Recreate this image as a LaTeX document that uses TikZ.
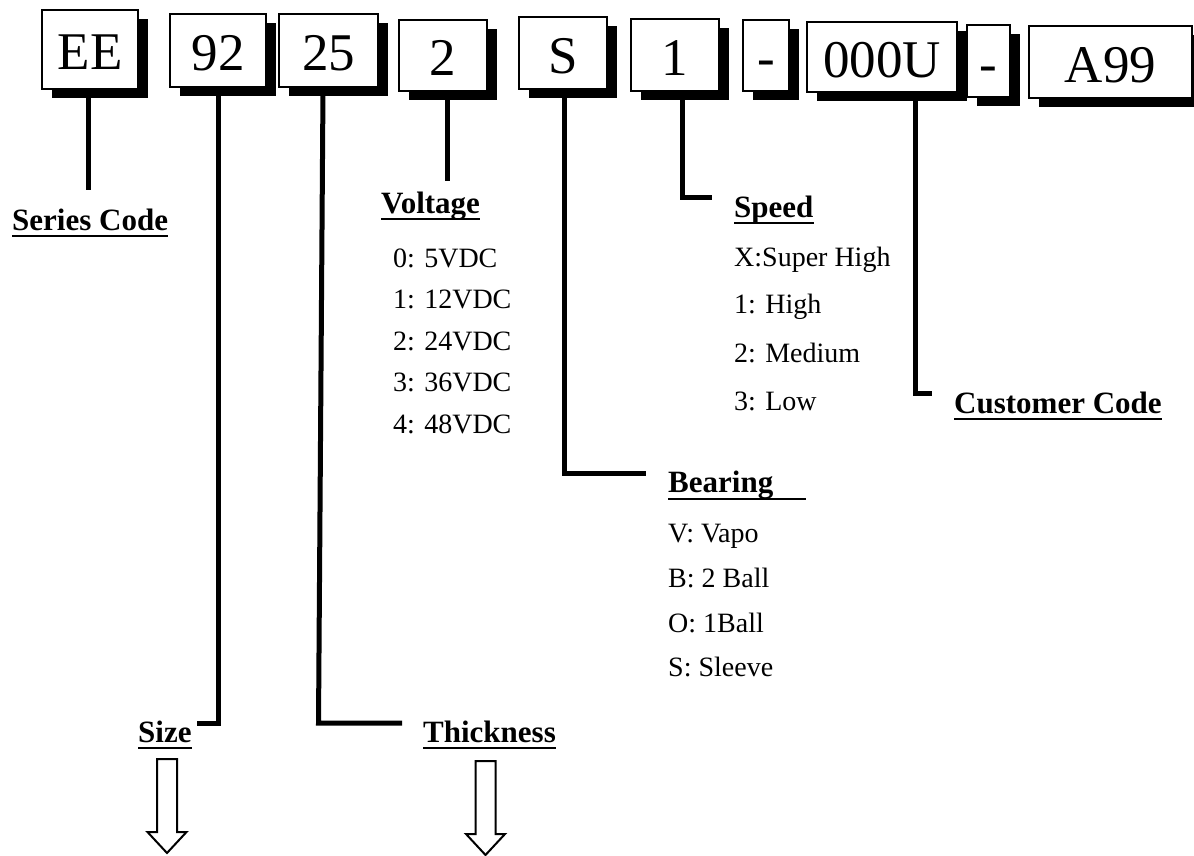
\documentclass[tikz,border=0pt]{standalone}
\usepackage{fontspec}
\setmainfont{Liberation Serif}
\usetikzlibrary{shadows}
\tikzset{
  codebox/.style={draw=black, line width=2pt, fill=white, inner sep=0pt,
    text height=40pt, text depth=0pt,
    font=\fontsize{53}{58}\selectfont,
    drop shadow={fill=black, opacity=1, shadow xshift=10pt, shadow yshift=-9pt}},
  head/.style={font=\bfseries\fontsize{31}{34}\selectfont, anchor=base west, inner sep=0pt},
  item/.style={font=\fontsize{28}{30}\selectfont, anchor=base west, inner sep=0pt},
  conn/.style={line width=5pt, line join=miter, line cap=butt},
  uline/.style={line width=2.6pt},
  downarrow/.pic={\draw[line width=2pt, line join=miter]
    (-10,0) -- (10,0) -- (10,73) -- (19.5,73) -- (0,94) -- (-19.5,73) -- (-10,73) -- cycle;}
}
\begin{document}
\begin{tikzpicture}[x=1pt, y=-1pt]
\useasboundingbox (0,0) rectangle (1194,855);
\fill[white] (0,0) rectangle (1194,855);

% code boxes
\node[codebox, minimum width=96pt, minimum height=79pt] (bEE) at (90,49.5) {EE};
\node[codebox, minimum width=96pt, minimum height=73pt] (b92) at (218,50.5) {92};
\node[codebox, minimum width=99pt, minimum height=73pt] (b25) at (328.5,50.5) {25};
\node[codebox, minimum width=88pt, minimum height=71pt] (b2) at (443,55.5) {2};
\node[codebox, minimum width=88pt, minimum height=72pt] (bS) at (563,53) {S};
\node[codebox, minimum width=88pt, minimum height=72pt] (b1) at (675,55) {1};
\node[codebox, minimum width=46pt, minimum height=71pt] (bd1) at (766,55.5) {-};
\node[codebox, minimum width=150pt, minimum height=70pt] (b000U) at (882,57) {000U};
\node[codebox, minimum width=43pt, minimum height=72pt] (bd2) at (988.5,61) {-};
\node[codebox, minimum width=163pt, minimum height=72pt] (bA99) at (1110.5,62) {A99};

% labels
\node[head] (series) at (12,230) {Series Code};
\node[head] (volt) at (381,213) {Voltage};
\node[item] (v0) at (393,267) {0: 5VDC};
\node[item] (v1) at (393,308.5) {1: 12VDC};
\node[item] (v2) at (393,350) {2: 24VDC};
\node[item] (v3) at (393,391.5) {3: 36VDC};
\node[item] (v4) at (393,433) {4: 48VDC};

\node[head] (speed) at (734,217) {Speed};
\node[item] (s0) at (734,266) {X:Super High};
\node[item] (s1) at (734,313) {1: High};
\node[item] (s2) at (734,362) {2: Medium};
\node[item] (s3) at (734,410) {3: Low};

\node[head] (cust) at (954,413) {Customer Code};

\node[head] (bear) at (668,492) {Bearing};
\node[item] (r0) at (668,542) {V: Vapo};
\node[item] (r1) at (668,587) {B: 2 Ball};
\node[item] (r2) at (668,632) {O: 1Ball};
\node[item] (r3) at (668,676) {S: Sleeve};

\node[head] (size) at (138,742) {Size};
\node[head] (thick) at (423,742) {Thickness};

% underlines
\foreach \n in {series,volt,speed,cust,size,thick}
  \draw[uline] ([yshift=-6pt]\n.base west) -- ([yshift=-6pt]\n.base east);
\draw[uline] ([yshift=-7pt]bear.base west) -- ([yshift=-7pt,xshift=33pt]bear.base east);

% connector end points
\coordinate (eeEnd) at (88,190);
\coordinate (szCorner) at (218,723);
\coordinate (szEnd) at (197,723);
\coordinate (thCorner) at (318.5,723);
\coordinate (thEnd) at (402,723);
\coordinate (vEnd) at (447,181);
\coordinate (bCorner) at (564,473);
\coordinate (bEnd) at (646,473);
\coordinate (spCorner) at (682,197);
\coordinate (spEnd) at (712,197);
\coordinate (cuCorner) at (915,393);
\coordinate (cuEnd) at (932,393);

% connectors
\draw[conn] ([xshift=-2pt]bEE.south) -- (eeEnd);
\draw[conn] (b92.south) -- (szCorner) -- (szEnd);
\draw[conn] ([xshift=-5.5pt]b25.south) -- (thCorner) -- (thEnd);
\draw[conn] ([xshift=4pt]b2.south) -- (vEnd);
\draw[conn] ([xshift=1pt]bS.south) -- (bCorner) -- (bEnd);
\draw[conn] ([xshift=7pt]b1.south) -- (spCorner) -- (spEnd);
\draw[conn] ([xshift=33pt]b000U.south) -- (cuCorner) -- (cuEnd);

% hollow arrows
\coordinate (szArrow) at (167,759);
\coordinate (thArrow) at (485.5,761);
\pic at (szArrow) {downarrow};
\pic at (thArrow) {downarrow};
\end{tikzpicture}
\end{document}
